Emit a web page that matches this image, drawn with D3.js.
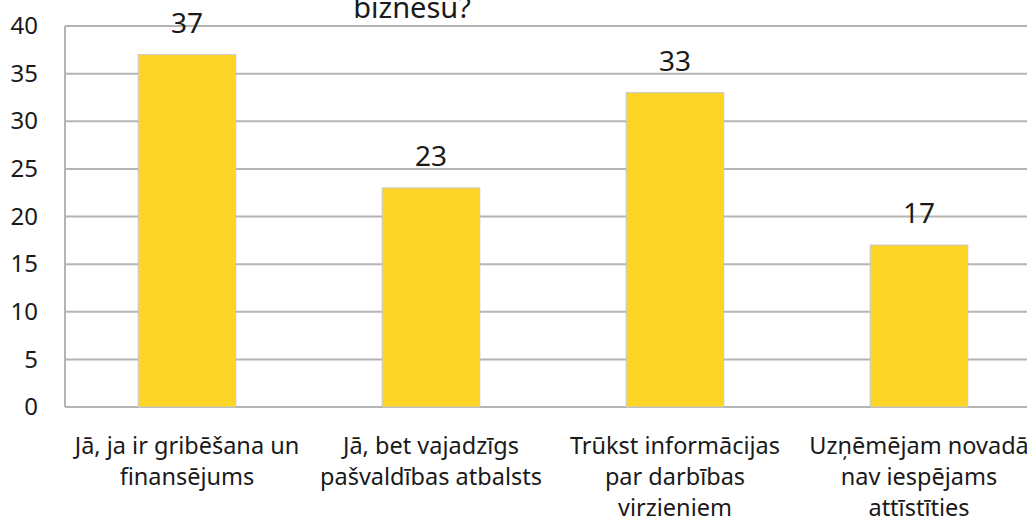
<!DOCTYPE html>
<html>
<head>
<meta charset="utf-8">
<script src="https://cdn.jsdelivr.net/npm/d3@7"></script>
<style>
  body { margin: 0; background: #fff; overflow: hidden; }
  text { font-family: "Noto Sans", "DejaVu Sans", sans-serif; fill: #1a1a1a; }
</style>
</head>
<body>
<script>
// canvas
const width = 1027;
const height = 526;

// data
const categories = [
  ['Jā, ja ir gribēšana un', 'finansējums'],
  ['Jā, bet vajadzīgs', 'pašvaldības atbalsts'],
  ['Trūkst informācijas', 'par darbības', 'virzieniem'],
  ['Uzņēmējam novadā', 'nav iespējams', 'attīstīties']
];
const values = [37, 23, 33, 17];
const yTicks = [0, 5, 10, 15, 20, 25, 30, 35, 40];
const titleTail = 'biznesu?';

// plot area (right edge runs past the window, as in the cropped original)
const plot = {left: 65, right: 1041, top: 26, bottom: 407};

const xScale = d3.scaleBand()
  .domain(d3.range(values.length))
  .range([plot.left, plot.right])
  .paddingInner(0.6)
  .paddingOuter(0.3);

const yScale = d3.scaleLinear()
  .domain([0, 40])
  .range([plot.bottom, plot.top]);

const svg = d3.select('body')
  .append('svg')
  .attr('width', width)
  .attr('height', height);

// gridlines
svg.append('g')
  .selectAll('line')
  .data(yTicks)
  .enter()
  .append('line')
  .attr('x1', plot.left)
  .attr('x2', plot.right)
  .attr('y1', d => yScale(d))
  .attr('y2', d => yScale(d))
  .attr('stroke', '#b4b4b4')
  .attr('stroke-width', 2);

// left axis line
svg.append('line')
  .attr('x1', plot.left).attr('x2', plot.left)
  .attr('y1', plot.top).attr('y2', plot.bottom)
  .attr('stroke', '#b4b4b4')
  .attr('stroke-width', 2);

// y tick labels
const yAxis = d3.axisLeft(yScale)
  .tickValues(yTicks)
  .tickSize(0)
  .tickPadding(27);

const gy = svg.append('g')
  .attr('transform', 'translate(' + plot.left + ',0)')
  .call(yAxis);
gy.select('.domain').remove();
gy.selectAll('text')
  .style('font-size', '24px')
  .style('font-family', '"Noto Sans", sans-serif')
  .attr('fill', '#1a1a1a');

// bars
svg.selectAll('.bar')
  .data(values)
  .enter()
  .append('rect')
  .attr('class', 'bar')
  .attr('x', (d, i) => xScale(i))
  .attr('y', d => yScale(d))
  .attr('width', xScale.bandwidth())
  .attr('height', d => plot.bottom - yScale(d))
  .attr('fill', '#fdd526')
  .attr('stroke', '#c8c8c8')
  .attr('stroke-width', 1);

// value labels
svg.selectAll('.val')
  .data(values)
  .enter()
  .append('text')
  .attr('class', 'val')
  .attr('x', (d, i) => xScale(i) + xScale.bandwidth() / 2)
  .attr('y', d => yScale(d) - 22)
  .attr('text-anchor', 'middle')
  .style('font-size', '28px')
  .text(d => d);

// category labels
const cat = svg.selectAll('.cat')
  .data(categories)
  .enter()
  .append('text')
  .attr('class', 'cat')
  .attr('x', (d, i) => xScale(i) + xScale.bandwidth() / 2)
  .attr('y', 454)
  .attr('text-anchor', 'middle')
  .style('font-size', '23.5px');

cat.selectAll('tspan')
  .data(d => d)
  .enter()
  .append('tspan')
  .attr('x', function() { return this.parentNode.getAttribute('x'); })
  .attr('dy', (d, i) => i === 0 ? 0 : 31)
  .text(d => d);

// title (only its last line shows in the crop)
svg.append('text')
  .attr('x', 412)
  .attr('y', 18)
  .attr('text-anchor', 'middle')
  .style('font-size', '29px')
  .text(titleTail);
</script>
</body>
</html>
